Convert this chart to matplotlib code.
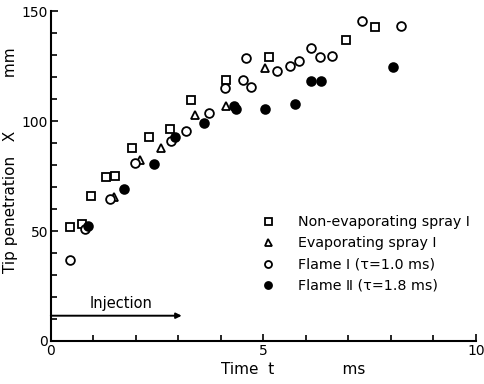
import matplotlib
matplotlib.use("Agg")
import matplotlib.pyplot as plt

# Non-evaporating spray I
sq_t = [0.46, 0.74, 0.95, 1.31, 1.51, 1.91, 2.32, 2.80, 3.31, 4.13, 5.13, 6.95, 7.64]
sq_x = [51.7, 53.0, 66.0, 74.7, 75.1, 87.6, 92.9, 96.6, 109.5, 118.6, 129.0, 136.8, 142.9]
# Evaporating spray I
tr_t = [1.48, 2.09, 2.60, 3.40, 4.13, 5.04]
tr_x = [65.4, 82.3, 87.6, 102.7, 106.8, 124.2]
# Flame I (tau=1.0 ms)
ci_t = [0.45, 0.80, 1.39, 1.97, 2.82, 3.19, 3.72, 4.09, 4.53, 4.60, 4.72, 5.33,
        5.64, 5.84, 6.13, 6.34, 6.62, 7.33, 8.24]
ci_x = [36.8, 50.9, 64.5, 81.0, 91.0, 95.5, 103.5, 114.9, 118.9, 128.5, 115.6, 122.7,
        125.0, 127.3, 133.3, 129.2, 129.5, 145.5, 143.2]
# Flame II (tau=1.8 ms)
fi_t = [0.88, 1.72, 2.42, 2.92, 3.60, 4.30, 4.35, 5.04, 5.74, 6.13, 6.35, 8.05]
fi_x = [52.4, 68.9, 80.5, 92.9, 99.2, 107.0, 105.3, 105.3, 107.6, 118.3, 118.3, 124.4]

labels = ["Non-evaporating spray Ⅰ", "Evaporating spray Ⅰ",
          "Flame Ⅰ (τ=1.0 ms)", "Flame Ⅱ (τ=1.8 ms)"]

inj_start, inj_end, inj_level = 0.0, 3.08, 11.5

plt.rcParams['font.family'] = ['DejaVu Sans']
fig = plt.figure(figsize=(4.84, 3.84), dpi=100)
ax = fig.add_axes([0.105, 0.112, 0.878, 0.859])

ms = 6.3
kw = dict(linestyle='none', markeredgecolor='black', markeredgewidth=1.3, markersize=ms)
ax.plot(sq_t, sq_x, marker='s', markerfacecolor='white', label=labels[0], **kw)
ax.plot(tr_t, tr_x, marker='^', markerfacecolor='white', label=labels[1], **kw)
ax.plot(ci_t, ci_x, marker='o', markerfacecolor='white', label=labels[2], **kw)
ax.plot(fi_t, fi_x, marker='o', markerfacecolor='black', label=labels[3], **kw)

ax.annotate('', xy=(inj_end, inj_level), xytext=(inj_start, inj_level),
            arrowprops=dict(arrowstyle='-|>', color='black', lw=1.4,
                            mutation_scale=8, shrinkA=0, shrinkB=0))
ax.text(1.65, inj_level + 2, 'Injection', ha='center',
        va='bottom', fontsize=10.5)

ax.set_xlim(0, 10)
ax.set_ylim(0, 150)
ax.set_xticks([0, 5, 10])
ax.set_xticks(range(0, 11), minor=True)
ax.set_yticks([0, 50, 100, 150])
ax.set_yticks(range(0, 151, 10), minor=True)
ax.tick_params(direction='in', which='both', labelsize=10, width=1.2, pad=2)
ax.tick_params(which='major', length=5)
ax.tick_params(which='minor', length=4)
for s in ['top', 'right']:
    ax.spines[s].set_visible(False)
for s in ['left', 'bottom']:
    ax.spines[s].set_linewidth(1.5)

ax.set_xlabel('Time  t              ms', fontsize=11)
ax.xaxis.set_label_coords(0.57, -0.065)
ax.set_ylabel('Tip penetration   X           mm', fontsize=11)
ax.yaxis.set_label_coords(-0.078, 0.548)

ax.legend(loc='upper left', bbox_to_anchor=(0.447, 0.42), frameon=False,
          fontsize=10.3, handletextpad=1.1, labelspacing=0.5, markerscale=0.8)

fig.savefig('out.png', dpi=100)
